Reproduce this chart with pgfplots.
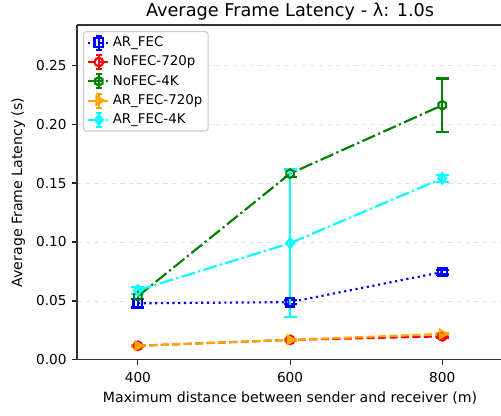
\documentclass[border=0pt]{standalone}
\usepackage{fontspec}
\setmainfont{DejaVu Sans}
\usepackage{pgfplots}
\pgfplotsset{compat=1.18}
\usetikzlibrary{calc}

\pgfdeclareplotmark{hexmk}{%
  \pgfpathmoveto{\pgfpointpolar{90}{\pgfplotmarksize}}%
  \pgfpathlineto{\pgfpointpolar{150}{\pgfplotmarksize}}%
  \pgfpathlineto{\pgfpointpolar{210}{\pgfplotmarksize}}%
  \pgfpathlineto{\pgfpointpolar{270}{\pgfplotmarksize}}%
  \pgfpathlineto{\pgfpointpolar{330}{\pgfplotmarksize}}%
  \pgfpathlineto{\pgfpointpolar{30}{\pgfplotmarksize}}%
  \pgfpathclose\pgfusepathqstroke}

\definecolor{mpblue}{rgb}{0,0,1}
\definecolor{mpred}{rgb}{1,0,0}
\definecolor{mpgreen}{rgb}{0,0.5,0}
\definecolor{mporange}{rgb}{1,0.647,0}
\definecolor{mpcyan}{rgb}{0,1,1}

\pgfplotsset{
  ebleg/.style={legend image code/.code={
    \draw[##1] (0cm,0cm) -- (0.52cm,0cm);
    \draw[##1,solid] (0.26cm,-0.17cm) -- (0.26cm,0.17cm);
    \draw[##1,solid] (0.19cm,0.17cm) -- (0.33cm,0.17cm);
    \draw[##1,solid] (0.19cm,-0.17cm) -- (0.33cm,-0.17cm);
    \draw[##1,solid] plot coordinates {(0.26cm,0cm)};
  }},
  ebs/.style={error bars/.cd, y dir=both, y explicit,
    error bar style={solid, line width=1.5pt},
    error mark options={rotate=90, mark size=4.5pt, line width=1.5pt, solid}},
}

\pgfplotstableread{
x y e
400 0.048 0.0035
600 0.049 0.0015
800 0.0745 0.002
}\arfec
\pgfplotstableread{
x y e
400 0.012 0.001
600 0.017 0.001
800 0.020 0.001
}\nofecsd
\pgfplotstableread{
x y e
400 0.054 0.002
600 0.158 0.003
800 0.216 0.0226
}\nofecfk
\pgfplotstableread{
x y e
400 0.012 0.001
600 0.017 0.001
800 0.022 0.001
}\arfecsd
\pgfplotstableread{
x y e
400 0.059 0.003
600 0.099 0.0625
800 0.154 0.003
}\arfecfk

\begin{document}
\begin{tikzpicture}
\begin{axis}[
  name=ax,
  scale only axis,
  width=296pt, height=232.6pt,
  xmin=320, xmax=880, ymin=0, ymax=0.284,
  axis x line*=box, axis y line*=left,
  xtick={400,600,800},
  ytick={0,0.05,0.10,0.15,0.20,0.25},
  tick align=outside,
  major tick length=3.5pt,
  tick style={line width=0.8pt, black!85},
  axis line style={line width=0.8pt, black!80, -},
  x axis line style={-}, y axis line style={-},
  xtick pos=bottom, ytick pos=left,
  /pgf/number format/assume math mode=true,
  yticklabel style={/pgf/number format/fixed, /pgf/number format/fixed zerofill, /pgf/number format/precision=2},
  scaled y ticks=false,
  xticklabel style={anchor=base, inner sep=0pt, yshift=-12.5pt},
  yticklabel style={anchor=east, inner sep=0pt, xshift=-3.5pt},
  tick label style={font=\fontsize{9.5}{11}\selectfont},
  ymajorgrids,
  grid style={dashed, black!12, line width=0.6pt},
  title={Average Frame Latency - λ: 1.0s},
  title style={at={(axis description cs:0.5,1)}, anchor=base, font=\fontsize{12.3}{14}\selectfont},
  xlabel={Maximum distance between sender and receiver (m)},
  xlabel style={at={(axis description cs:0.5,-0.128)}, anchor=base, font=\fontsize{9.8}{12}\selectfont},
  ylabel={Average Frame Latency (s)},
  ylabel style={at={(axis description cs:-0.129,0.5)}, anchor=base, rotate=0, font=\fontsize{9.8}{12}\selectfont},
  legend style={at={(axis description cs:0.014,0.982)}, anchor=north west,
    draw=black!20, rounded corners=2pt, fill=white, line width=0.8pt,
    font=\fontsize{9.3}{11}\selectfont, row sep=2pt, inner xsep=2.5pt, inner ysep=2pt,
    nodes={inner sep=1.5pt}},
  legend cell align=left,
]
\addplot[mpblue, line width=1.5pt, dash pattern=on 1.5pt off 2.5pt,
  mark=square, mark size=3pt, mark options={solid}, ebleg,
  ebs] table[x=x, y=y, y error=e] {\arfec};
\addlegendentry{AR\_FEC}
\addplot[mpred, line width=1.5pt, dash pattern=on 5.55pt off 2.4pt,
  mark=o, mark size=3pt, mark options={solid}, ebleg,
  ebs] table[x=x, y=y, y error=e] {\nofecsd};
\addlegendentry{NoFEC-720p}
\addplot[mpgreen, line width=1.5pt, dash pattern=on 9.6pt off 2.4pt on 1.5pt off 2.4pt,
  mark=hexmk, mark size=3pt, mark options={solid}, ebleg,
  ebs] table[x=x, y=y, y error=e] {\nofecfk};
\addlegendentry{NoFEC-4K}
\addplot[mporange, line width=1.5pt, dash pattern=on 5.55pt off 2.4pt,
  mark=triangle, mark size=3.3pt, mark options={solid, rotate=-90}, ebleg,
  ebs] table[x=x, y=y, y error=e] {\arfecsd};
\addlegendentry{AR\_FEC-720p}
\addplot[mpcyan, line width=1.5pt, dash pattern=on 9.6pt off 2.4pt on 1.5pt off 2.4pt,
  mark=diamond, mark size=3.5pt, mark options={solid}, ebleg,
  ebs] table[x=x, y=y, y error=e] {\arfecfk};
\addlegendentry{AR\_FEC-4K}
\coordinate (bl) at (rel axis cs:0,0);
\coordinate (tr) at (rel axis cs:1,1);
\end{axis}
\pgfresetboundingbox
\path[use as bounding box] ($(bl)+(-53.5pt,-38.9pt)$) rectangle ($(tr)+(-1.5pt,17.4pt)$);
\end{tikzpicture}
\end{document}
